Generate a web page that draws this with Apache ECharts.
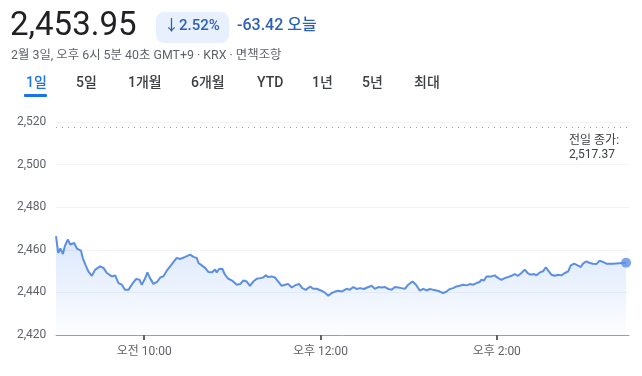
<!DOCTYPE html>
<html>
<head>
<meta charset="utf-8">
<style>
  html, body { margin: 0; padding: 0; background: #fff; }
  #chart { width: 642px; height: 376px; }
</style>
<script src="https://cdn.jsdelivr.net/npm/echarts@6/dist/echarts.min.js"></script>
</head>
<body>
<div id="chart"></div>
<script>
// 장중 시각 (9:00 개장 기준 경과 분)
var minutes = [0, 1.5, 3, 4.7, 6, 8, 9.7, 12.4, 14.2, 17, 18.3, 20, 22, 24.4, 26.7, 30, 32.3, 34.6, 38, 40.3,
  42.5, 44.8, 47, 49.3, 50.5, 52.3, 54.6, 56.8, 58.4, 60.7, 62.2, 64, 66.3, 69, 71, 73, 75.4, 77.7, 80, 82.2,
  84.5, 88, 91.3, 93.5, 95.8, 97, 99.2, 101.5, 103.7, 106, 108.3, 109.4, 111, 113.2, 115, 117.3, 120, 123, 125.3, 127.5,
  129.8, 132, 134.3, 136.6, 139, 141, 142.8, 144.5, 146.8, 149, 151.3, 153.6, 156, 158, 160.4, 162.7, 165.4, 167.6, 170, 173,
  175, 177.4, 180.3, 183, 185.3, 187.6, 190, 192, 194.4, 195.5, 197.8, 200, 202.3, 204.6, 207, 209.6, 211.8, 214.8, 217, 219.3,
  221.6, 224, 226, 228.4, 230.7, 233, 235.2, 237.5, 239.7, 242.7, 245, 247.7, 250, 252.2, 254.5, 256.7, 259, 261.2, 263.5, 265.8,
  268, 270.3, 272.6, 274.8, 277, 279.4, 281.6, 284, 286.2, 288.4, 289.6, 291.2, 293, 294.1, 296.4, 298.6, 301, 303.2, 305.4, 307.7,
  310, 312.2, 314.5, 316.8, 319, 321, 323, 325.4, 327, 329.3, 331.5, 333.4, 335.4, 337.2, 339.5, 341.8, 344, 346.3, 348.6, 350.4,
  352.6, 355, 357.2, 358.7, 361, 363.3, 365.5, 367.8, 370, 372.3, 374.6, 379, 388];
// 지수 값
var prices = [2466.4, 2458.5, 2460.6, 2458, 2461.7, 2464.8, 2462.5, 2463.2, 2460.6, 2459.6, 2456, 2453, 2449.9, 2447.8, 2450.7, 2452.2, 2451.5, 2449.1, 2447.5, 2448,
  2444.4, 2443.6, 2441.2, 2441.2, 2440.4, 2444.4, 2446.3, 2446, 2443.6, 2446.7, 2449.4, 2446.7, 2444, 2445.1, 2447, 2447.5, 2450.2, 2452.2, 2454.3, 2456.2,
  2455.7, 2456.7, 2457.7, 2456.7, 2456.2, 2453.8, 2452.7, 2451.5, 2449.6, 2449.4, 2450.7, 2449.4, 2451, 2451.1, 2448.3, 2446.4, 2445.5, 2443.6, 2443.9, 2445.6,
  2445.1, 2443.1, 2445.1, 2446.4, 2446.7, 2447, 2448, 2447.2, 2447.5, 2447, 2445.1, 2443.1, 2443.6, 2444, 2442.3, 2443.3, 2444, 2442, 2441.2, 2442.8,
  2441.7, 2441.7, 2440.9, 2439.9, 2438.4, 2439.7, 2440.4, 2440.8, 2440.4, 2440, 2441.7, 2441.2, 2442.5, 2441.6, 2442, 2441.6, 2442.3, 2443.1, 2441.7, 2442.5,
  2442.3, 2442.5, 2441.7, 2441.2, 2442.5, 2442.3, 2442, 2441.7, 2443.6, 2445.1, 2443.6, 2440.8, 2441.7, 2440.9, 2441.6, 2441.2, 2440.9, 2440.4, 2439.7, 2440.4,
  2441.6, 2442, 2442.8, 2443.1, 2443.6, 2443.3, 2443.9, 2443.6, 2444.4, 2444.9, 2446, 2445.5, 2447.5, 2448.3, 2447.5, 2448, 2446.7, 2445.9, 2446.7, 2447.2,
  2447.8, 2448.6, 2447.8, 2449.1, 2450.7, 2449.1, 2448.3, 2448.6, 2448, 2449.4, 2449.9, 2451.8, 2449.9, 2448.3, 2447.8, 2448.3, 2448, 2449.1, 2449.9, 2452.7,
  2453.5, 2452.7, 2451.9, 2453.5, 2454.6, 2453.8, 2453.5, 2453.3, 2454.9, 2454.3, 2453.5, 2453.5, 2453.95];
var prevClose = 2517.37;
var yTicks = [2420, 2440, 2460, 2480, 2500, 2520];
var xTickValues = [60, 180, 300];
var xTickLabels = ['오전 10:00', '오후 12:00', '오후 2:00'];
var tabs = ['1일', '5일', '1개월', '6개월', 'YTD', '1년', '5년', '최대'];
var tabX = [26, 76, 128, 191, 257, 312, 362, 414];

var FONT = "Roboto, 'Noto Sans CJK KR', sans-serif";
var BLUE = '#5b8fe3';

(function() {
    var chart = echarts.init(document.getElementById('chart'), null, { renderer: 'canvas' });

    var lineData = [];
    for (var i = 0; i < minutes.length; i++) {
        lineData.push([minutes[i], prices[i]]);
    }
    var last = lineData[lineData.length - 1];

    var fmt = function(v) {
        return v.toLocaleString('en-US', { minimumFractionDigits: 2, maximumFractionDigits: 2 });
    };

    // 상단 헤더 (현재가, 등락, 탭)
    var graphics = [
        { type: 'text', left: 10, top: 10, style: { text: '2,453.95', font: '400 33px ' + FONT, fill: '#202124' } },
        { type: 'rect', left: 156, top: 12, shape: { width: 73, height: 31, r: 8 }, style: { fill: '#e8f0fe' } },
        { type: 'text', left: 164, top: 19, style: { text: '↓2.52%', font: '500 15px ' + FONT, fill: '#2d5fb3' } },
        { type: 'text', left: 237, top: 18, style: { text: '-63.42 오늘', font: '500 16px ' + FONT, fill: '#2d5fb3' } },
        { type: 'text', left: 11, top: 50, style: { text: '2월 3일, 오후 6시 5분 40초 GMT+9 · KRX · 면책조항', font: '12.4px ' + FONT, fill: '#5f6368' } },
        { type: 'rect', left: 24, top: 94, shape: { width: 23, height: 3, r: 1 }, style: { fill: '#1a73e8' } },
        { type: 'text', left: 569, top: 135, style: { text: '전일 종가:', font: '12px ' + FONT, fill: '#3c4043' } },
        { type: 'text', left: 569, top: 149, style: { text: fmt(prevClose), font: '12px ' + FONT, fill: '#3c4043' } }
    ];
    tabs.forEach(function(t, i) {
        graphics.push({
            type: 'text', left: tabX[i], top: 77,
            style: { text: t, font: '500 14px ' + FONT, fill: i === 0 ? '#1a73e8' : '#3c4043' }
        });
    });

    var option = {
        animation: false,
        textStyle: { fontFamily: FONT },
        grid: { left: 56, right: 13, top: 122, bottom: 41, containLabel: false },
        graphic: graphics,
        xAxis: {
            type: 'value',
            min: 0,
            max: 390,
            axisLine: { lineStyle: { color: '#9aa0a6', width: 1 } },
            axisTick: { show: true, customValues: xTickValues, length: 5, lineStyle: { color: '#5f6368', width: 2 } },
            axisLabel: {
                customValues: xTickValues,
                color: '#5f6368',
                fontSize: 12,
                margin: 11,
                formatter: function(v) {
                    var idx = xTickValues.indexOf(v);
                    return idx >= 0 ? xTickLabels[idx] : '';
                }
            },
            splitLine: { show: false }
        },
        yAxis: {
            type: 'value',
            min: yTicks[0],
            max: yTicks[yTicks.length - 1],
            interval: 20,
            axisLine: { show: false },
            axisTick: { show: false },
            axisLabel: {
                color: '#5f6368',
                fontSize: 12,
                align: 'left',
                margin: 39,
                formatter: function(v) { return v.toLocaleString('en-US'); }
            },
            splitLine: { lineStyle: { color: '#f1f3f4', width: 1 } }
        },
        series: [{
            type: 'line',
            data: lineData,
            showSymbol: false,
            lineStyle: { color: BLUE, width: 2 },
            areaStyle: {
                origin: 'start',
                color: new echarts.graphic.LinearGradient(0, 0, 0, 1, [
                    { offset: 0, color: 'rgba(66,133,244,0.28)' },
                    { offset: 1, color: 'rgba(66,133,244,0.02)' }
                ])
            },
            markLine: {
                silent: true,
                symbol: 'none',
                label: { show: false },
                lineStyle: { color: '#9aa0a6', type: [1, 5], width: 1 },
                data: [{ yAxis: prevClose }]
            }
        }, {
            type: 'scatter',
            data: [last],
            symbolSize: 10,
            itemStyle: { color: BLUE }
        }]
    };
    chart.setOption(option);
})();
</script>
</body>
</html>
